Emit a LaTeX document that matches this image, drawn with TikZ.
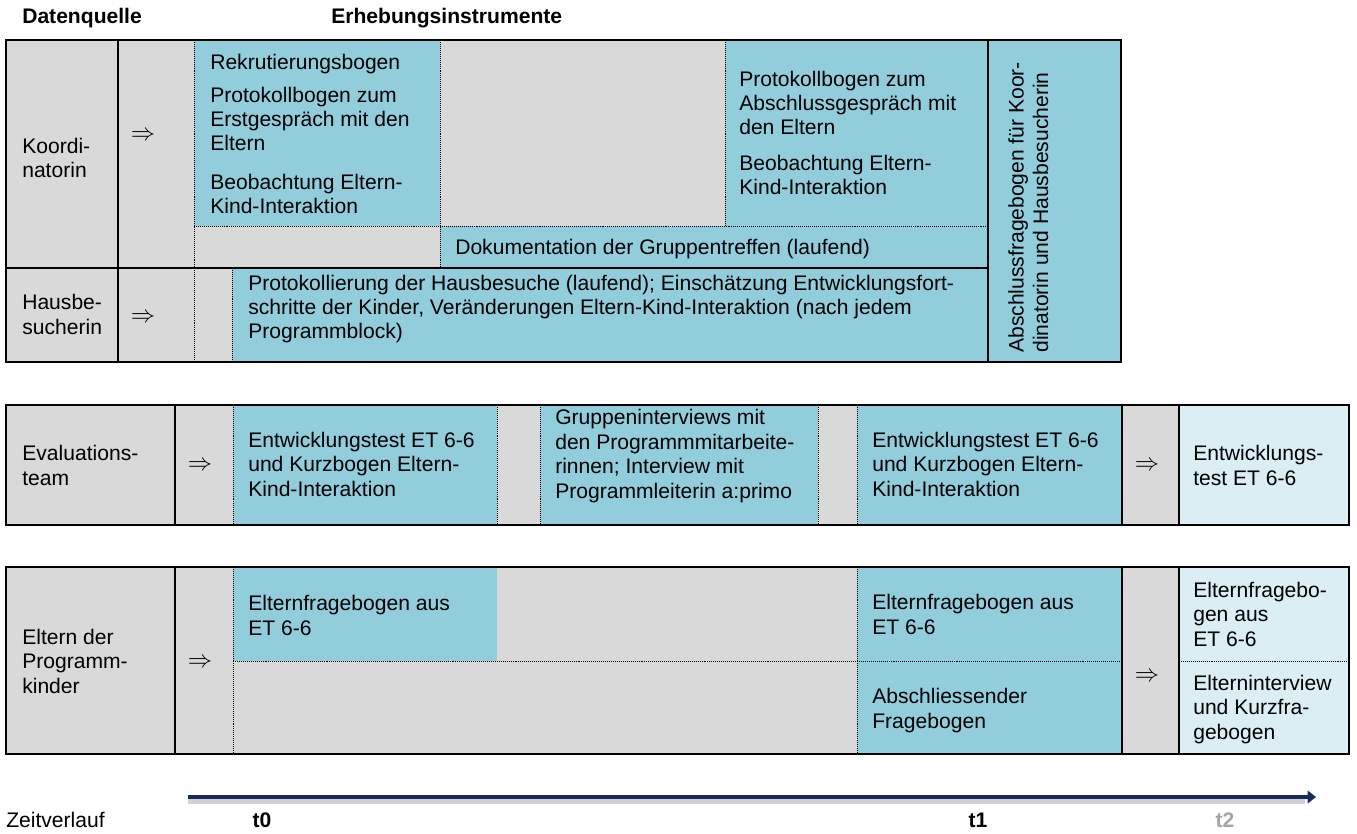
\documentclass[tikz,border=0pt]{standalone}
\usepackage{fontspec}
\setmainfont{Liberation Sans}
\usetikzlibrary{arrows.meta}
\definecolor{myblue}{HTML}{92CDDC}
\definecolor{mylightblue}{HTML}{DAEEF3}
\definecolor{mygray}{HTML}{D9D9D9}
\definecolor{mynavy}{HTML}{172B5E}
\definecolor{mytextgray}{HTML}{A5A5A5}

\begin{document}
\begin{tikzpicture}[x=0.025cm, y=-0.025cm,
  cell/.style={font=\fontsize{15}{17.4}\selectfont, align=left, anchor=base west, inner sep=0pt},
  headcell/.style={cell, font=\fontsize{15}{17.4}\selectfont\bfseries},
  pfeil/.style={font=\fontsize{17}{17.4}\selectfont, inner sep=0pt},
  tabframe/.style={line width=1.8pt},
  solidline/.style={line width=1.4pt},
  dotline/.style={line width=0.7pt, dash pattern=on 0.7pt off 0.7pt}]

\useasboundingbox (0,0) rectangle (1357,834);

% HEADER
\node[headcell] (datenquelle) at (22,24) {Datenquelle};
\node[headcell] (erhebung) at (331,24) {Erhebungsinstrumente};

% KOORDINATORIN / HAUSBESUCHERIN
% (base of a node = baseline of its last line)
\begin{scope}
\fill[mygray] (6,40) rectangle (1121,362);
\fill[myblue] (194,40) rectangle (440,226);
\fill[myblue] (725,40) rectangle (988,226);
\fill[myblue] (440,226) rectangle (988,268);
\fill[myblue] (232,268) rectangle (988,362);
\fill[myblue] (988,40) rectangle (1121,362);

%%% Koordinatorin
\node[cell] (koord) at (22,178) {Koordi-\\natorin};
\node[pfeil] (koordpfeil) at (143,136) {$\Rightarrow$};
\node[cell] (rekrut) at (210,70) {Rekrutierungsbogen};
\node[cell] (erstgespraech) at (210,151) {Protokollbogen zum\\Erstgespräch mit den\\Eltern};
\node[cell] (beobachtung1) at (210,214) {Beobachtung Eltern-\\Kind-Interaktion};
\node[cell] (abschlussgespraech) at (739,135) {Protokollbogen zum\\Abschlussgespräch mit\\den Eltern};
\node[cell] (beobachtung2) at (739,195) {Beobachtung Eltern-\\Kind-Interaktion};
\node[cell] (gruppentreffen) at (455,255) {Dokumentation der Gruppentreffen (laufend)};
\node[cell, rotate=90] (abschlussbogen) at (1048,353) {Abschlussfragebogen für Koor-\\dinatorin und Hausbesucherin};

%%% Hausbesucherin
\node[cell] (hausbe) at (22,334) {Hausbe-\\sucherin};
\node[pfeil] (hauspfeil) at (143,318) {$\Rightarrow$};
\node[cell] (hausbesuche) at (248,339) {Protokollierung der Hausbesuche (laufend); Einschätzung Entwicklungsfort-\\schritte der Kinder, Veränderungen Eltern-Kind-Interaktion (nach jedem\\Programmblock)};

\foreach \x in {194,440} {
  \draw[dotline] (\x,40) -- (\x,{\x==194 ? 362 : 268});
}
\draw[dotline] (725,40) -- (725,226);
\draw[dotline] (194,226) -- (988,226);
\draw[dotline] (232,268) -- (232,362);
\draw[solidline] (6,268) -- (988,268);
\foreach \x in {118,988} {
  \draw[solidline] (\x,40) -- (\x,362);
}
\draw[tabframe] (6,40) rectangle (1121,362);
\end{scope}

% EVALUATIONSTEAM
\begin{scope}
\fill[mygray] (6,405) rectangle (1349,525);
\fill[myblue] (233,405) rectangle (497,525);
\fill[myblue] (540,405) rectangle (818,525);
\fill[myblue] (857,405) rectangle (1122,525);
\fill[mylightblue] (1179,405) rectangle (1349,525);

\node[cell] (evalteam) at (22,485) {Evaluations-\\team};
\node[pfeil] (evalpfeil) at (200,466) {$\Rightarrow$};
\node[cell] (etest1) at (248,496) {Entwicklungstest ET 6-6\\und Kurzbogen Eltern-\\Kind-Interaktion};
\node[cell] (gruppeninterviews) at (555,498) {Gruppeninterviews mit\\den Programmmitarbeite-\\rinnen; Interview mit\\Programmleiterin a:primo};
\node[cell] (etest2) at (872,496) {Entwicklungstest ET 6-6\\und Kurzbogen Eltern-\\Kind-Interaktion};
\node[pfeil] (evalpfeil2) at (1147,466) {$\Rightarrow$};
\node[cell] (etest3) at (1193,485) {Entwicklungs-\\test ET 6-6};

\foreach \x in {233,497,540,818,857} {
  \draw[dotline] (\x,405) -- (\x,525);
}
\foreach \x in {175,1122,1179} {
  \draw[solidline] (\x,405) -- (\x,525);
}
\draw[tabframe] (6,405) rectangle (1349,525);
\end{scope}

% ELTERN
\begin{scope}
\fill[mygray] (6,567) rectangle (1349,754);
\fill[myblue] (233,567) rectangle (497,661);
\fill[myblue] (857,567) rectangle (1122,754);
\fill[mylightblue] (1179,567) rectangle (1349,754);

\node[cell] (eltern) at (22,693) {Eltern der\\Programm-\\kinder};
\node[pfeil] (elternpfeil) at (200,663) {$\Rightarrow$};
\node[cell] (elternbogen1) at (248,635) {Elternfragebogen aus\\ET 6-6};
\node[cell] (elternbogen2) at (872,634) {Elternfragebogen aus\\ET 6-6};
\node[cell] (abschliessend) at (872,728) {Abschliessender\\Fragebogen};
\node[pfeil] (elternpfeil2) at (1147,677) {$\Rightarrow$};
\node[cell] (elternbogen3) at (1193,646) {Elternfragebo-\\gen aus\\ET 6-6};
\node[cell] (elterninterview) at (1193,739) {Elterninterview\\und Kurzfra-\\gebogen};

\foreach \x in {233,857} {
  \draw[dotline] (\x,567) -- (\x,754);
}
\draw[dotline] (233,661) -- (1122,661);
\draw[dotline] (1179,661) -- (1349,661);
\foreach \x in {175,1122,1179} {
  \draw[solidline] (\x,567) -- (\x,754);
}
\draw[tabframe] (6,567) rectangle (1349,754);
\end{scope}

% ZEITVERLAUF
\coordinate (tstart) at (188,797);
\coordinate (tend) at (1316,797);
\draw[black!18, line width=3.5pt] ([yshift=-3pt]tstart) -- ([yshift=-3pt, xshift=-8pt]tend);
\draw[mynavy, line width=3.5pt, -{Triangle[length=6pt, width=9pt]}] (tstart) -- (tend);
\node[cell] (zeit) at (6,827) {Zeitverlauf};
\node[headcell, anchor=base] (tnull) at (262,827) {t0};
\node[headcell, anchor=base] (teins) at (978,827) {t1};
\node[headcell, anchor=base, mytextgray] (tzwei) at (1225,827) {t2};

\end{tikzpicture}
\end{document}
